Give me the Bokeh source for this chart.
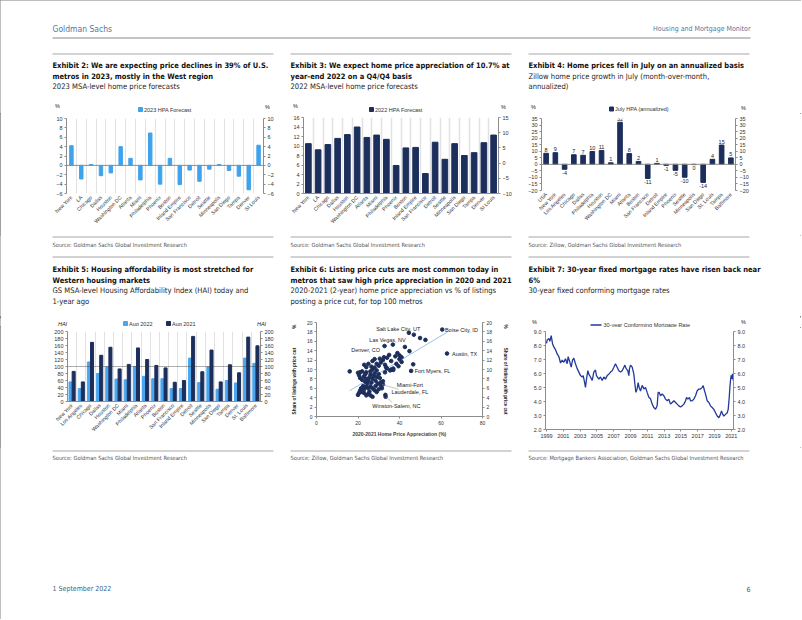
import math
import numpy as np
from bokeh.plotting import figure
from bokeh.models import (Range1d, FactorRange, LinearAxis, SingleIntervalTicker, FixedTicker,
                          Label, Span, ColumnDataSource, NumeralTickFormatter)
from bokeh.layouts import column, row
from bokeh.transform import dodge
from bokeh.embed import file_html
from bokeh.resources import INLINE
from bokeh.core.properties import value

# ============================ DATA ============================
metros_20 = ["New York", "LA", "Chicago", "Dallas", "Houston", "Washington DC", "Atlanta", "Miami",
             "Philadelphia", "Phoenix", "Boston", "Inland Empire", "San Francisco", "Detroit", "Seattle",
             "Minneapolis", "San Diego", "Tampa", "Denver", "St Louis"]
hpa_2023 = [4.2, -2.9, 0.2, -2.2, -1.6, 4.0, 1.5, -3.1, 6.9, -4.0, 1.5, -4.1, -1.0, -3.4, -0.8,
            0.2, -1.1, -2.3, -5.2, 4.3]
hpa_2022 = [10.5, 9.2, 10.3, 11.6, 12.4, 14.0, 11.8, 12.3, 11.4, 5.9, 9.6, 9.7, 4.2, 10.8, 7.2,
            10.5, 8.0, 8.6, 10.7, 12.3]

july_cats = ["USA", "New York", "Los Angeles", "Chicago", "Dallas", "Philadelphia", "Houston",
             "Washington DC", "Miami", "Atlanta", "Boston", "San Francisco", "Detroit", "Inland Empire",
             "Phoenix", "Seattle", "Minneapolis", "San Diego", "St. Louis", "Tampa", "Baltimore"]
july_hpa = [8.4, 8.9, -3.8, 7.3, 6.9, 9.8, 10.6, 1.2, 32.1, 8.2, 2.2, -10.8, 0.7, -0.8, -4.6, -9.9,
            -0.2, -13.8, 3.8, 14.7, 4.9]

hai_cats = ["New York", "Los Angeles", "Chicago", "Dallas", "Houston", "Washington DC", "Miami",
            "Philadelphia", "Atlanta", "Phoenix", "Boston", "San Francisco", "Inland Empire", "Detroit",
            "Seattle", "Minneapolis", "San Diego", "Tampa", "Denver", "St. Louis", "Baltimore"]
hai_aug2022 = [56, 37, 113, 80, 99, 64, 62, 100, 72, 65, 65, 37, 37, 124, 54, 99, 35, 60, 53, 124, 109]
hai_aug2021 = [86, 56, 169, 132, 155, 93, 106, 153, 120, 103, 96, 55, 60, 186, 85, 147, 56, 105, 82, 184, 159]

# Exhibit 6: 2020-2021 HPA (%) vs share of listings with a price cut (%)
hpa_2yr = [16, 44.5, 46.9, 49.9, 52.5, 36.8, 32.8, 42.6, 44.8, 46.6, 45.6, 62.9, 60.6,
           20, 20.5, 21, 22, 21.5, 23, 22.5, 24, 25, 26, 27, 25.5, 24.5, 23.5, 22, 21, 22.8, 23.5, 24,
           25, 25.5, 26, 26.5, 27, 27.5, 28, 28.5, 29, 26, 27, 28, 29, 30, 30.5, 29.5, 31, 31.5, 32,
           30, 29, 33.2, 33.3, 24, 23, 25, 27, 28, 30, 31, 32, 33, 34, 35, 36, 37, 38, 39, 40, 41,
           38.5, 39.5, 40, 41, 37, 35.5, 34, 33, 21, 20, 22, 20.5, 24, 26.5, 29, 30.5, 32.5, 33.5,
           36, 28.5, 27, 26, 25, 23, 24, 31, 32, 28]
price_cut = [9.6, 17.8, 17.4, 16.7, 16.3, 15.3, 15.0, 14.8, 13.9, 11.1, 9.7, 13.4, 18.5,
             4.6, 5.0, 5.5, 5.2, 6.0, 5.8, 6.5, 6.3, 4.8, 4.5, 4.2, 5.3, 7.0, 7.4, 7.8, 8.2, 8.5, 9.0,
             8.0, 7.6, 8.3, 8.9, 7.2, 8.0, 8.6, 9.2, 7.6, 8.4, 9.6, 10.0, 10.4, 9.8, 9.0, 8.2, 7.0,
             6.6, 6.0, 6.8, 5.8, 5.2, 4.6, 4.2, 10.5, 11.0, 11.2, 11.8, 12.2, 10.8, 11.5, 12.0, 11.0,
             12.5, 13.1, 11.8, 10.2, 12.8, 13.5, 12.2, 11.6, 11.2, 10.7, 13.0, 12.6, 9.9, 9.8, 10.2,
             9.4, 9.4, 9.3, 9.6, 8.8, 9.4, 10.6, 11.2, 12.3, 12.6, 10.5, 10.0, 6.5, 6.0, 6.4, 6.0,
             5.0, 4.5, 7.3, 7.5, 5.6]
named_metros = ["Salt Lake City, UT", "Boise City, ID", "Las Vegas, NV", "Denver, CO", "Austin, TX",
                "Fort Myers, FL", "Miami-Fort", "Lauderdale, FL", "Winston-Salem, NC"]

# Exhibit 7: 30-year conforming mortgage rate (%), on the chart's own year axis
rate_year = [1999.00, 1999.08, 1999.28, 1999.40, 1999.56, 1999.71, 1999.87, 2000.07, 2000.27, 2000.47,
             2000.67, 2000.87, 2001.06, 2001.26, 2001.46, 2001.58, 2001.78, 2001.94, 2002.10, 2002.25,
             2002.45, 2002.65, 2002.85, 2003.05, 2003.25, 2003.37, 2003.52, 2003.64, 2003.76, 2003.92,
             2004.04, 2004.24, 2004.44, 2004.63, 2004.83, 2004.95, 2005.23, 2005.43, 2005.63, 2005.83,
             2006.02, 2006.22, 2006.42, 2006.62, 2006.82, 2007.02, 2007.21, 2007.41, 2007.61, 2007.81,
             2008.01, 2008.21, 2008.33, 2008.48, 2008.68, 2008.80, 2008.88, 2009.00, 2009.20, 2009.40,
             2009.52, 2009.64, 2009.79, 2009.91, 2010.03, 2010.19, 2010.39, 2010.59, 2010.79, 2010.98,
             2011.18, 2011.38, 2011.58, 2011.78, 2011.98, 2012.17, 2012.29, 2012.41, 2012.57, 2012.77,
             2012.97, 2013.17, 2013.37, 2013.56, 2013.76, 2013.96, 2014.16, 2014.36, 2014.56, 2014.75,
             2014.95, 2015.15, 2015.35, 2015.55, 2015.67, 2015.83, 2016.02, 2016.14, 2016.34, 2016.54,
             2016.74, 2016.94, 2017.13, 2017.33, 2017.53, 2017.65, 2017.81, 2017.93, 2018.13, 2018.33,
             2018.52, 2018.72, 2018.92, 2019.12, 2019.32, 2019.52, 2019.71, 2019.83, 2019.99, 2020.11,
             2020.31, 2020.51, 2020.63, 2020.75, 2020.83, 2020.90, 2020.98, 2021.06, 2021.14, 2021.22]
rate_pct = [8.15, 8.4, 8.5, 8.3, 8.7, 8.15, 7.9, 7.7, 7.4, 7.2, 6.75, 6.95, 6.8, 7.05, 6.7, 7.2, 6.8,
            6.45, 6.95, 7.1, 6.7, 6.35, 6.1, 5.85, 5.75, 5.85, 5.4, 5.0, 5.6, 6.2, 5.95, 5.75, 5.5, 6.1,
            6.25, 5.85, 5.6, 5.75, 5.5, 5.75, 5.6, 5.85, 5.95, 6.1, 6.2, 6.45, 6.7, 6.45, 6.2, 6.1, 6.2,
            6.45, 6.6, 6.35, 6.2, 5.85, 6.35, 6.6, 6.45, 5.95, 5.25, 4.65, 4.9, 5.35, 5.0, 4.75, 5.15,
            4.9, 5.0, 4.65, 4.3, 4.2, 3.81, 3.57, 3.44, 3.69, 4.65, 4.65, 4.41, 4.53, 4.41, 4.17, 4.05,
            4.17, 3.81, 3.93, 4.05, 3.93, 3.81, 3.69, 3.61, 3.69, 3.81, 4.05, 4.29, 4.17, 4.29, 4.05,
            4.05, 4.17, 4.41, 4.77, 4.89, 4.89, 5.01, 5.14, 4.77, 4.53, 4.05, 3.93, 3.69, 3.57, 3.44,
            3.2, 2.96, 2.84, 3.08, 3.32, 3.08, 2.96, 3.08, 3.2, 3.44, 4.29, 5.01, 5.5, 5.86, 5.62, 5.98, 5.5]
rate_tick_years = [1999, 2001, 2003, 2005, 2007, 2009, 2011, 2013, 2015, 2017, 2019, 2021]

# ============================ STYLE / LAYOUT ============================
GRAY = "#8c8c8c"
GRID = "#e2e2e2"
LIGHT = "#3fa3ec"
LIGHT5 = "#4aa6ee"
NAVY = "#1c2e5c"
LINE_BLUE = "#22399a"
TXT = "#222222"
GS_BLUE = "#56779a"
NARROW = "DejaVu Sans Condensed"
SANS = "Liberation Sans"
NB = "\u00a0"

PAGE_W = 801
PAGE_H = 619
COLS = [(0, 285), (285, 523), (523, PAGE_W)]
TX = [52, 290, 528]       # text column starts (reference px)
TW = 221                  # text column width

F2 = (66, 118, 263, 193)  # frames: left, top, right, bottom (reference px)
F3 = (303, 117, 498, 193)
F4 = (541, 118, 735, 190)
F5 = (67, 331, 260, 401)
F6 = (316, 322, 482, 416)
F7 = (545, 331, 733, 429)


def make_strip(xspan, yspan):
    x0, x1 = xspan
    y0, y1 = yspan
    p = figure(width=x1 - x0, height=y1 - y0, x_range=Range1d(x0, x1), y_range=Range1d(y1, y0),
               output_backend="svg", toolbar_location=None, min_border=0, title=None,
               x_axis_location=None, y_axis_location=None)
    p.grid.visible = False
    p.outline_line_color = None
    return p


def stext(p, x, y, text, size, font=NARROW, style="normal", color=TXT, align="left"):
    p.add_layout(Label(x=x, y=y, text=text, text_font=font, text_font_size=f"{size}px",
                       text_font_style=style, text_color=color, text_align=align,
                       text_baseline="middle"))


def legend_box(p, x, y, label, color):
    p.rect(x=[x], y=[y], width=4, height=4, color=color)
    stext(p, x + 3.5, y, label, 5.5, font=SANS, color="#333333")


def make_chart(xspan, yspan, frame, x_range, y_range):
    cx0, cx1 = xspan
    y0, y1 = yspan
    fl, ft, fr, fb = frame
    p = figure(width=cx1 - cx0, height=y1 - y0, x_range=x_range, y_range=y_range,
               output_backend="svg", toolbar_location=None, title=None,
               min_border_left=fl - cx0, min_border_right=cx1 - fr,
               min_border_top=ft - y0, min_border_bottom=y1 - fb)
    p.outline_line_color = None
    p.grid.grid_line_color = None
    return p


def style_axis(ax, size="5.5px"):
    ax.axis_line_color = GRAY
    ax.major_tick_line_color = GRAY
    ax.minor_tick_line_color = None
    ax.major_tick_in = 0
    ax.major_tick_out = 2
    ax.major_label_standoff = 2
    ax.major_label_text_font = SANS
    ax.major_label_text_font_size = size
    ax.major_label_text_color = "#333333"


def style_cat_axis(ax, show_line):
    style_axis(ax, "5.2px")
    ax.major_tick_line_color = None
    ax.major_label_orientation = math.pi / 4
    ax.major_label_standoff = 1
    if not show_line:
        ax.axis_line_color = None


def right_axis(p, lo, hi):
    p.extra_y_ranges = {"r": Range1d(lo, hi)}
    ax = LinearAxis(y_range_name="r")
    p.add_layout(ax, "right")
    return ax


# ============================ STRIPS (page text) ============================
s1 = make_strip((0, PAGE_W), (0, 113))
stext(s1, 52, 28, "Goldman Sachs", 8.5, color=GS_BLUE)
stext(s1, 750, 28, "Housing and Mortgage Monitor", 7, color=GS_BLUE, align="right")
s1.segment(x0=[52], y0=[37.5], x1=[750], y1=[37.5], line_color="#8a8a8a", line_width=1)
s1.segment(x0=TX, y0=[53.5] * 3, x1=[x + TW for x in TX], y1=[53.5] * 3, line_color="#a8a8a8", line_width=1.2)
row1_titles = [["Exhibit 2: We are expecting price declines in 39% of U.S.", "metros in 2023, mostly in the West region"],
               ["Exhibit 3: We expect home price appreciation of 10.7% at", "year-end 2022 on a Q4/Q4 basis"],
               ["Exhibit 4: Home prices fell in July on an annualized basis"]]
row1_subs = [["2023 MSA-level home price forecasts"],
             ["2022 MSA-level home price forecasts"],
             ["Zillow home price growth in July (month-over-month,", "annualized)"]]
for x, tl, sl in zip(TX, row1_titles, row1_subs):
    y = 65
    for t in tl:
        stext(s1, x, y, t, 7.5, style="bold", color="#111111")
        y += 10.7
    for t in sl:
        stext(s1, x, y, t, 7.6, color="#262626")
        y += 10.7
for ux, uy in [(57, 105.5), (267, 106.5), (295, 105.5), (503, 106.5), (533, 106.5), (743, 107)]:
    stext(s1, ux, uy, "%", 5.5, font=SANS, align="center")
legend_box(s1, 140, 109, "2023 HPA Forecast", LIGHT)
legend_box(s1, 371, 109, "2022 HPA Forecast", NAVY)
legend_box(s1, 611, 108.5, "July HPA (annualized)", NAVY)

sources_r1 = ["Source: Goldman Sachs Global Investment Research",
              "Source: Goldman Sachs Global Investment Research",
              "Source: Zillow, Goldman Sachs Global Investment Research"]
sources_r2 = ["Source: Goldman Sachs Global Investment Research",
              "Source: Zillow, Goldman Sachs Global Investment Research",
              "Source: Mortgage Bankers Association, Goldman Sachs Global Investment Research"]

s2 = make_strip((0, PAGE_W), (235, 316))
s2.segment(x0=TX, y0=[236.5] * 3, x1=[x + TW for x in TX], y1=[236.5] * 3, line_color="#a8a8a8", line_width=1.2)
for x, t in zip(TX, sources_r1):
    stext(s2, x, 244, t, 5.7, color="#555555")
s2.segment(x0=TX, y0=[256.5] * 3, x1=[x + TW for x in TX], y1=[256.5] * 3, line_color="#a8a8a8", line_width=1.2)
row2_titles = [["Exhibit 5: Housing affordability is most stretched for", "Western housing markets"],
               ["Exhibit 6: Listing price cuts are most common today in", "metros that saw high price appreciation in 2020 and 2021"],
               ["Exhibit 7: 30-year fixed mortgage rates have risen back near", "6%"]]
row2_subs = [["GS MSA-level Housing Affordability Index (HAI) today and", "1-year ago"],
             ["2020-2021 (2-year) home price appreciation vs % of listings", "posting a price cut, for top 100 metros"],
             ["30-year fixed conforming mortgage rates"]]
for x, tl, sl in zip(TX, row2_titles, row2_subs):
    y = 269
    for t in tl:
        stext(s2, x, y, t, 7.5, style="bold", color="#111111")
        y += 10.7
    for t in sl:
        stext(s2, x, y, t, 7.6, color="#262626")
        y += 10.7

sA = make_strip(COLS[0], (316, 326))
stext(sA, 62, 321, "HAI", 5.5, font=SANS, style="italic", align="center")
stext(sA, 261, 321, "HAI", 5.5, font=SANS, style="italic", align="center")
legend_box(sA, 125, 321, "Aug 2022", LIGHT5)
legend_box(sA, 168, 321, "Aug 2021", NAVY)

sC = make_strip(COLS[2], (316, 327))
stext(sC, 534, 320.5, "%", 5.5, font=SANS, align="center")
stext(sC, 743, 320.5, "%", 5.5, font=SANS, align="center")
sC.segment(x0=[590], y0=[323.5], x1=[601], y1=[323.5], line_color=LINE_BLUE, line_width=1.3)
stext(sC, 603, 323.5, "30-year Conforming Mortgage Rate", 5.5, font=SANS, color="#333333")

s3 = make_strip((0, PAGE_W), (447, PAGE_H))
s3.segment(x0=TX, y0=[450.5] * 3, x1=[x + TW for x in TX], y1=[450.5] * 3, line_color="#a8a8a8", line_width=1.2)
for x, t in zip(TX, sources_r2):
    stext(s3, x, 457, t, 5.7, color="#555555")
stext(s3, 52, 588, "1 September 2022", 7, color="#3f5f85")
stext(s3, 750, 588, "6", 7, color="#3f5f85", align="right")

ROW1 = (113, 235)

# ============================ EXHIBIT 2 ============================
p2 = make_chart(COLS[0], ROW1, F2, FactorRange(*metros_20), Range1d(-6, 10))
right_axis(p2, -6, 10)
p2.vspan(x=list(range(1, len(metros_20))), line_color=GRID, line_width=1)
p2.vbar(x=metros_20, top=hpa_2023, width=0.35, color=LIGHT)
p2.add_layout(Span(location=0, dimension="width", line_color=GRAY, line_width=1))
for ax in p2.yaxis:
    style_axis(ax)
    ax.ticker = SingleIntervalTicker(interval=2, num_minor_ticks=0)
style_cat_axis(p2.xaxis[0], False)

# ============================ EXHIBIT 3 ============================
p3 = make_chart(COLS[1], ROW1, F3, FactorRange(*metros_20), Range1d(0, 16))
ra3 = right_axis(p3, -10, 15)
p3.vspan(x=list(range(1, len(metros_20))), line_color=GRID, line_width=1.5)
p3.vbar(x=metros_20, top=hpa_2022, width=0.58, color=NAVY)
for ax in p3.yaxis:
    style_axis(ax)
p3.yaxis[0].ticker = SingleIntervalTicker(interval=2, num_minor_ticks=0)
ra3.ticker = SingleIntervalTicker(interval=5, num_minor_ticks=0)
style_cat_axis(p3.xaxis[0], True)

# ============================ EXHIBIT 4 ============================
p4 = make_chart(COLS[2], ROW1, F4, FactorRange(*july_cats), Range1d(-20, 35))
right_axis(p4, -20, 35)
p4.vbar(x=july_cats, top=july_hpa, width=0.5, color=NAVY)
p4.add_layout(Span(location=0, dimension="width", line_color=GRAY, line_width=1))
for ax in p4.yaxis:
    style_axis(ax)
    ax.ticker = SingleIntervalTicker(interval=5, num_minor_ticks=0)
style_cat_axis(p4.xaxis[0], False)
pos = [(c, v, f"{round(v)}") for c, v in zip(july_cats, july_hpa) if v >= 0]
neg = [(c, v, f"{round(v)}") for c, v in zip(july_cats, july_hpa) if v < 0]
p4.text(x=[a[0] for a in pos], y=[a[1] for a in pos], text=[a[2] for a in pos],
        text_font=value(SANS), text_font_size=value("5.5px"), text_color=TXT,
        text_align="center", text_baseline="bottom", y_offset=-1.5)
p4.text(x=[a[0] for a in neg], y=[a[1] for a in neg], text=[a[2] for a in neg],
        text_font=value(SANS), text_font_size=value("5.5px"), text_color=TXT,
        text_align="center", text_baseline="top", y_offset=1.5)

# ============================ EXHIBIT 5 ============================
p5 = make_chart(COLS[0], (326, 447), F5, FactorRange(*hai_cats), Range1d(0, 200))
right_axis(p5, 0, 200)
p5.vspan(x=list(range(1, len(hai_cats))), line_color=GRID, line_width=1)
src5 = ColumnDataSource(dict(cat=hai_cats, a22=hai_aug2022, a21=hai_aug2021))
p5.vbar(x=dodge("cat", -0.17, range=p5.x_range), top="a22", width=0.33, source=src5, color=LIGHT5)
p5.vbar(x=dodge("cat", 0.17, range=p5.x_range), top="a21", width=0.33, source=src5, color=NAVY)
p5.add_layout(Span(location=100, dimension="width", line_color="#333333", line_width=0.8, line_dash="1 1"))
for ax in p5.yaxis:
    style_axis(ax)
    ax.ticker = SingleIntervalTicker(interval=20, num_minor_ticks=0)
style_cat_axis(p5.xaxis[0], True)

# ============================ EXHIBIT 6 ============================
p6 = make_chart(COLS[1], (316, 447), F6, Range1d(0, 80), Range1d(0, 20))
ra6 = right_axis(p6, 0, 20)
slope, icpt = np.polyfit(hpa_2yr, price_cut, 1)
fx = [min(hpa_2yr), max(hpa_2yr)]
p6.line(fx, [slope * v + icpt for v in fx], line_color="#9cc2e8", line_width=1)
p6.scatter(hpa_2yr, price_cut, size=3.6, color=NAVY)
for ax in p6.yaxis:
    style_axis(ax, "5px")
    ax.ticker = SingleIntervalTicker(interval=2, num_minor_ticks=0)
    ax.axis_label_text_font = SANS
    ax.axis_label_text_font_size = "4.6px"
    ax.axis_label_text_font_style = "bold"
    ax.axis_label_text_color = TXT
p6.yaxis[0].axis_label = "Share of listings with price cut" + NB * 15 + "%"
p6.yaxis[0].axis_label_standoff = 7
ra6.axis_label = "%" + NB * 15 + "Share of listings with price cut"
ra6.axis_label_standoff = 8
xa6 = p6.xaxis[0]
style_axis(xa6, "5px")
xa6.ticker = SingleIntervalTicker(interval=20, num_minor_ticks=0)
xa6.axis_label = "2020-2021 Home Price Appreciation (%)"
xa6.axis_label_text_font = SANS
xa6.axis_label_text_font_size = "5px"
xa6.axis_label_text_font_style = "bold"
xa6.axis_label_standoff = 3
call_x = [50.0, 61.9, 43.0, 30.6, 65.3, 47.3, 45.0, 45.0, 38.5]
call_y = [18.6, 18.5, 16.3, 14.2, 13.3, 9.7, 6.6, 5.3, 2.3]
call_al = ["right", "left", "right", "right", "left", "left", "center", "center", "center"]
for t, x, y, a in zip(named_metros, call_x, call_y, call_al):
    p6.add_layout(Label(x=x, y=y, text=t, text_font=SANS, text_font_size="5.5px", text_color=TXT,
                        text_align=a, text_baseline="middle"))
p6.segment(x0=[31.6, 33.6], y0=[6.8, 4.1], x1=[39.5, 36.5], y1=[5.8, 3.0], line_color="#a0a0a0", line_width=0.6)

# ============================ EXHIBIT 7 ============================
p7 = make_chart(COLS[2], (327, 447), F7, Range1d(1998.88, 2021.26), Range1d(2, 9))
right_axis(p7, 2, 9)
p7.line(rate_year, rate_pct, line_color=LINE_BLUE, line_width=1.3)
for ax in p7.yaxis:
    style_axis(ax)
    ax.ticker = SingleIntervalTicker(interval=1, num_minor_ticks=0)
    ax.formatter = NumeralTickFormatter(format="0.0")
xa7 = p7.xaxis[0]
style_axis(xa7)
xa7.ticker = FixedTicker(ticks=rate_tick_years)

# every figure wrapped in its own column so that Bokeh does not align frames across siblings
colA = column(column(sA), column(p5))
colB = column(p6)
colC = column(column(sC), column(p7))
layout = column(s1, row(column(p2), column(p3), column(p4)), s2, row(colA, colB, colC), s3,
                styles={"outline": "1.5px solid #7f7f7f", "outline-offset": "-1.5px"})
open("out.html", "w").write(file_html(layout, INLINE))
